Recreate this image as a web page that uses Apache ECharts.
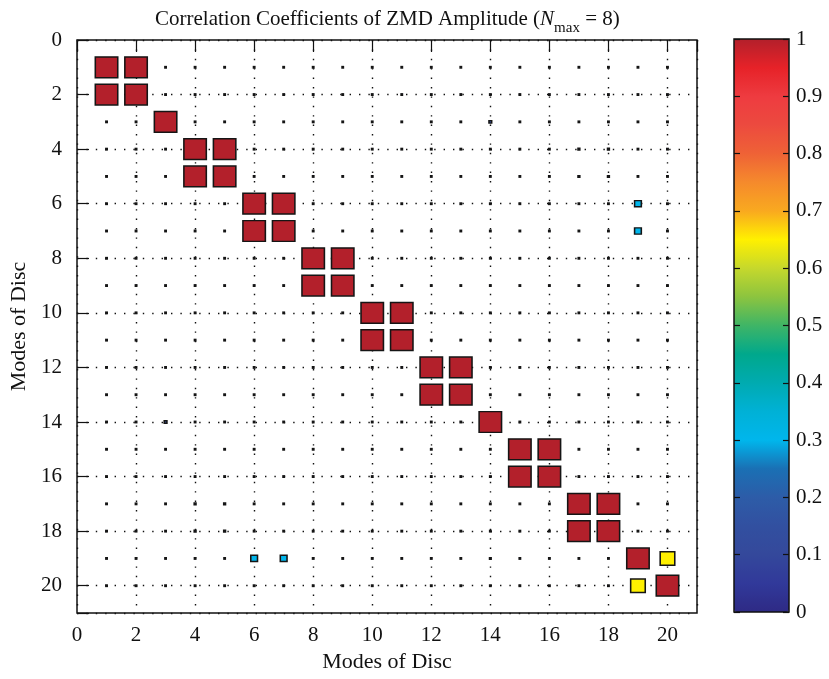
<!DOCTYPE html>
<html>
<head>
<meta charset="utf-8">
<script src="https://cdn.jsdelivr.net/npm/echarts@6/dist/echarts.min.js"></script>
<style>
html,body{margin:0;padding:0;background:#fff;}
#c{width:829px;height:679px;}
</style>
</head>
<body>
<div id="c"></div>
<script>
// Modes (1..20) on both axes
const modes = [1,2,3,4,5,6,7,8,9,10,11,12,13,14,15,16,17,18,19,20];
// Tick labels
const axisTicks = [0,2,4,6,8,10,12,14,16,18,20];
const colorbarTicks = [0,0.1,0.2,0.3,0.4,0.5,0.6,0.7,0.8,0.9,1];
// Correlation matrix, row r = mode r (y), column c = mode c (x)
const r01 = [1,1,.03,.04,.03,.04,.03,.04,.03,.04,.03,.04,.03,.04,.03,.04,.04,.04,.06,.04];
const r02 = [1,1,.04,.04,.04,.04,.04,.04,.04,.04,.03,.04,.03,.04,.03,.04,.04,.04,.06,.04];
const r03 = [.03,.04,1,.04,.03,.04,.03,.04,.03,.04,.03,.04,.04,.12,.03,.04,.04,.04,.06,.04];
const r04 = [.04,.04,.04,1,1,.04,.03,.04,.04,.04,.03,.04,.04,.04,.03,.04,.08,.08,.04,.04];
const r05 = [.03,.04,.03,1,1,.04,.03,.04,.03,.04,.03,.04,.03,.04,.03,.04,.08,.08,.03,.04];
const r06 = [.04,.04,.04,.04,.03,1,1,.04,.04,.04,.03,.04,.04,.04,.03,.04,.03,.04,.30,.04];
const r07 = [.03,.04,.03,.04,.03,1,1,.04,.03,.04,.03,.04,.03,.05,.03,.04,.03,.03,.30,.04];
const r08 = [.04,.04,.04,.04,.04,.04,.03,1,1,.04,.04,.04,.03,.04,.04,.04,.04,.04,.04,.04];
const r09 = [.03,.04,.03,.04,.04,.03,.03,1,1,.04,.03,.04,.03,.04,.03,.04,.04,.04,.05,.04];
const r10 = [.04,.04,.04,.04,.04,.04,.04,.04,.04,1,1,.04,.03,.04,.03,.04,.04,.04,.04,.04];
const r11 = [.03,.04,.03,.03,.03,.04,.03,.04,.03,1,1,.04,.03,.04,.03,.04,.04,.04,.04,.04];
const r12 = [.04,.04,.04,.04,.04,.04,.04,.04,.04,.04,.04,1,1,.04,.03,.04,.04,.04,.04,.04];
const r13 = [.03,.04,.03,.04,.03,.04,.03,.04,.03,.04,.03,1,1,.04,.03,.04,.04,.04,.04,.04];
const r14 = [.04,.04,.12,.04,.04,.04,.05,.04,.04,.04,.04,.04,.04,1,.03,.04,.04,.04,.07,.04];
const r15 = [.03,.04,.03,.03,.03,.03,.03,.04,.03,.04,.03,.03,.03,.03,1,1,.03,.04,.04,.04];
const r16 = [.04,.04,.04,.04,.04,.04,.03,.04,.04,.04,.04,.04,.04,.04,1,1,.04,.04,.06,.04];
const r17 = [.04,.04,.04,.08,.08,.03,.03,.04,.04,.04,.04,.04,.04,.04,.03,.04,1,1,.04,.04];
const r18 = [.04,.04,.04,.08,.08,.04,.03,.04,.04,.04,.04,.04,.04,.04,.04,.04,1,1,.04,.04];
const r19 = [.06,.06,.06,.04,.03,.30,.30,.04,.05,.04,.04,.04,.04,.07,.04,.06,.04,.04,1,.65];
const r20 = [.04,.04,.04,.04,.04,.04,.04,.04,.04,.04,.04,.04,.04,.04,.04,.04,.04,.04,.65,1];
const matrix = [r01,r02,r03,r04,r05,r06,r07,r08,r09,r10,r11,r12,r13,r14,r15,r16,r17,r18,r19,r20];

// colormap stops at 0, 0.05, ..., 1
const cmap = ['#2e2a85','#31399a','#34489b','#3250a0','#2d5ca8','#1a70b4','#00b6ec','#00b1d6',
  '#00abb0','#00a88c','#3fb566','#8cc43f','#c6d82c','#fff000','#f9a91f','#f58a2c',
  '#ef6236','#ec4a3f','#ee3b40','#e62228','#b3202b'];

const data = [];
modes.forEach((r, i) => {
  modes.forEach((c, j) => {
    data.push([c, r, matrix[i][j]]);
  });
});

const G = {left: 77, top: 40, width: 620, height: 573};
const cw = G.width / 21, ch = G.height / 21, k = 0.76;
const serif = 'Liberation Serif';
const TL = 6;
// tick-only axis: shifted inward by TL so that its outward ticks end on the frame
function tickAxis(grid, pos, min, max, interval, inverse) {
  return {gridIndex: grid, type: 'value', min: min, max: max, interval: interval, inverse: !!inverse,
    position: pos, offset: -TL, z: 6,
    axisLine: {show: false}, axisLabel: {show: false}, splitLine: {show: false},
    axisTick: {show: true, length: TL, lineStyle: {color: '#111', width: 1.2}}};
}

const chart = echarts.init(document.getElementById('c'), null, {renderer: 'canvas'});
chart.setOption({
  animation: false,
  backgroundColor: '#fff',
  title: {
    left: 150, top: 4,
    text: '{a|Correlation Coefficients of ZMD Amplitude (}{i|N}{s|max}{a| = 8)}',
    textStyle: {
      fontWeight: 'normal',
      rich: {
        a: {fontFamily: serif, fontSize: 21, fontWeight: 'normal', color: '#111', verticalAlign: 'bottom', padding: [0,0,6,0]},
        i: {fontFamily: serif, fontSize: 21, fontWeight: 'normal', fontStyle: 'italic', color: '#111', verticalAlign: 'bottom', padding: [0,0,6,0]},
        s: {fontFamily: serif, fontSize: 15, fontWeight: 'normal', color: '#111', verticalAlign: 'bottom'}
      }
    }
  },
  grid: [
    {left: G.left, top: G.top, width: G.width, height: G.height, show: true, borderColor: '#111', borderWidth: 1.5, backgroundColor: 'transparent', z: 0},
    {left: 734, top: 39, width: 55, height: 573, show: true, borderColor: '#111', borderWidth: 1.5, backgroundColor: 'transparent', z: 5}
  ],
  xAxis: [
    {gridIndex: 0, type: 'value', min: 0, max: 21, interval: 2, position: 'bottom',
     name: 'Modes of Disc', nameLocation: 'middle', nameGap: 38,
     nameTextStyle: {fontFamily: serif, fontSize: 22, color: '#111'},
     axisLine: {show: false},
     axisTick: {show: false},
     axisLabel: {fontFamily: serif, fontSize: 21, color: '#111', margin: 12,
       formatter: v => axisTicks.indexOf(v) >= 0 ? String(v) : ''},
     splitLine: {show: true, lineStyle: {color: '#111', width: 1.4, type: [1.4, 8]}}},
    tickAxis(0, 'bottom', 0, 21, 2),
    tickAxis(0, 'top', 0, 21, 2),
    {gridIndex: 1, type: 'value', min: 0, max: 1, show: false}
  ],
  yAxis: [
    {gridIndex: 0, type: 'value', min: 0, max: 21, interval: 2, inverse: true, position: 'left',
     name: 'Modes of Disc', nameLocation: 'middle', nameGap: 45,
     nameTextStyle: {fontFamily: serif, fontSize: 22, color: '#111'},
     axisLine: {show: false},
     axisTick: {show: false},
     axisLabel: {fontFamily: serif, fontSize: 21, color: '#111', margin: 15,
       formatter: v => axisTicks.indexOf(v) >= 0 ? String(v) : ''},
     splitLine: {show: true, lineStyle: {color: '#111', width: 1.4, type: [1.4, 8]}}},
    tickAxis(0, 'left', 0, 21, 2, true),
    tickAxis(0, 'right', 0, 21, 2, true),
    {gridIndex: 1, type: 'value', min: 0, max: 1, interval: 0.1, position: 'right', z: 6,
     axisLine: {show: false}, splitLine: {show: false}, axisTick: {show: false},
     axisLabel: {fontFamily: serif, fontSize: 21, color: '#111', margin: 7,
       formatter: v => { const t = colorbarTicks.find(x => Math.abs(x - v) < 1e-9); return t === undefined ? '' : String(t); }}},
    tickAxis(1, 'left', 0, 1, 0.1),
    tickAxis(1, 'right', 0, 1, 0.1)
  ],
  visualMap: {
    type: 'continuous', min: 0, max: 1, seriesIndex: 0, dimension: 2,
    orient: 'vertical', left: 734, top: 39, itemWidth: 55, itemHeight: 573,
    padding: 0, calculable: false, hoverLink: false, text: null, z: 1,
    inRange: {color: cmap}
  },
  series: [{
    type: 'scatter', xAxisIndex: 0, yAxisIndex: 0, symbol: 'rect',
    symbolSize: v => [Math.max(v[2] * k * cw, 1.4), Math.max(v[2] * k * ch, 1.4)],
    itemStyle: {borderColor: '#151515', borderWidth: 1.5, opacity: 1},
    data: data, z: 3
  }]
});
</script>
</body>
</html>
